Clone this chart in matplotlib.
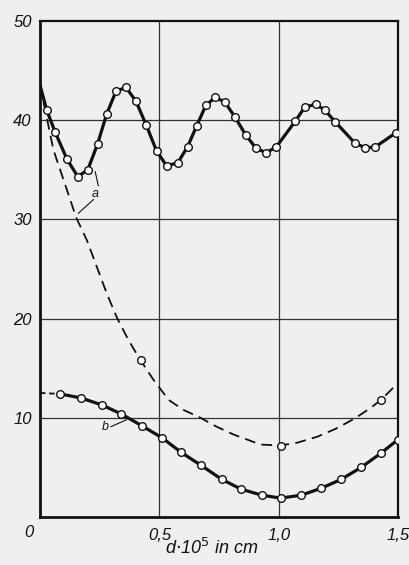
import matplotlib
matplotlib.use("Agg")
import matplotlib.pyplot as plt

# Kurve a, gemessen (obere Kurve)
xa = [0.0, 0.028, 0.063, 0.112, 0.158, 0.200, 0.241, 0.279, 0.318, 0.360, 0.402,
      0.445, 0.488, 0.530, 0.577, 0.618, 0.656, 0.695, 0.735, 0.775, 0.817, 0.862,
      0.904, 0.947, 0.990, 1.070, 1.109, 1.155, 1.194, 1.238, 1.319, 1.363, 1.405, 1.490]
ya = [43.5, 41.0, 38.8, 36.1, 34.3, 35.0, 37.6, 40.6, 42.9, 43.3, 41.9,
      39.5, 36.9, 35.4, 35.7, 37.3, 39.4, 41.5, 42.3, 41.8, 40.3, 38.5,
      37.2, 36.7, 37.3, 39.9, 41.3, 41.6, 41.0, 39.8, 37.7, 37.2, 37.3, 38.7]

# Kurve a, berechnet (gestrichelt)
xa_th = [0.0, 0.056, 0.126, 0.151, 0.196, 0.238, 0.280, 0.322, 0.371, 0.421, 0.476,
         0.539, 0.600, 0.672, 0.740, 0.812, 0.924, 1.008, 1.080, 1.163, 1.240, 1.317,
         1.380, 1.429, 1.500]
ya_th = [43.5, 37.0, 32.0, 30.2, 27.9, 25.2, 22.5, 20.1, 17.8, 15.8, 13.8,
         11.8, 10.8, 10.0, 9.1, 8.3, 7.3, 7.2, 7.5, 8.1, 8.9, 9.9,
         10.9, 11.8, 13.5]
xa_th_pts = [0.421, 1.008, 1.429]
ya_th_pts = [15.8, 7.2, 11.8]

# Kurve b
xb = [0.084, 0.171, 0.258, 0.339, 0.426, 0.510, 0.592, 0.675, 0.761, 0.843,
      0.929, 1.008, 1.095, 1.179, 1.263, 1.346, 1.427, 1.500]
yb = [12.4, 12.0, 11.3, 10.4, 9.2, 8.0, 6.5, 5.2, 3.8, 2.8,
      2.2, 1.9, 2.2, 2.9, 3.8, 5.0, 6.4, 7.8]
xb_start = [0.0, 0.084]
yb_start = [12.5, 12.4]

xticks = [0.5, 1.0, 1.5]
xticklabels = ['0,5', '1,0', '1,5']
yticks = [10, 20, 30, 40, 50]
yticklabels = ['10', '20', '30', '40', '50']

papier = '#efefef'
fam = ['Liberation Sans', 'DejaVu Sans']

fig = plt.figure(figsize=(4.09, 5.65), dpi=100, facecolor=papier)
ax = fig.add_axes([0.098, 0.085, 0.875, 0.878], facecolor=papier)

ax.set_xlim(0, 1.5)
ax.set_ylim(0, 50)

# Gitter
for xv in xticks[:-1]:
    ax.axvline(xv, color='#333333', lw=0.9, zorder=1)
for yv in yticks[:-1]:
    ax.axhline(yv, color='#333333', lw=0.9, zorder=1)

mk = dict(marker='o', markersize=5.5, markerfacecolor='white',
          markeredgecolor='#111111', markeredgewidth=1.0)

ax.plot(xa_th, ya_th, color='#111111', lw=1.3, ls=(0, (6, 3.5)), zorder=2)
ax.plot(xa_th_pts, ya_th_pts, ls='none', zorder=4, **mk)

ax.plot(xa, ya, color='#111111', lw=2.3, zorder=3)
ax.plot(xa[1:], ya[1:], ls='none', zorder=4, **mk)

ax.plot(xb_start, yb_start, color='#111111', lw=1.3, ls=(0, (3, 2)), zorder=2)
ax.plot(xb, yb, color='#111111', lw=2.3, zorder=3)
ax.plot(xb, yb, ls='none', zorder=4, **mk)

# Beschriftung a und b
ax.text(0.231, 32.6, 'a', fontsize=9, style='italic', family=fam,
        ha='center', va='center', color='#111111')
ax.plot([0.224, 0.160], [32.0, 30.6], color='#111111', lw=0.8)
ax.plot([0.231, 0.244], [34.8, 33.4], color='#111111', lw=0.8)
ax.text(0.272, 9.1, 'b', fontsize=9, style='italic', family=fam,
        ha='center', va='center', color='#111111')
ax.plot([0.297, 0.362], [9.1, 9.8], color='#111111', lw=0.8)

# Achsen
for side in ['left', 'bottom']:
    ax.spines[side].set_linewidth(2.0)
for side in ['top', 'right']:
    ax.spines[side].set_linewidth(1.6)
for s in ax.spines.values():
    s.set_color('#111111')

ax.set_xticks(xticks)
ax.set_xticklabels(xticklabels)
ax.set_yticks(yticks)
ax.set_yticklabels(yticklabels)
ax.tick_params(axis='x', length=0, pad=8, labelsize=12, colors='#111111')
ax.tick_params(axis='y', length=0, pad=6, labelsize=12, colors='#111111')
for lab in ax.get_xticklabels() + ax.get_yticklabels():
    lab.set_style('italic')
    lab.set_family(fam)

ax.text(-0.045, -1.6, '0', fontsize=12, style='italic', family=fam,
        ha='center', va='center', color='#111111')

ax.set_xlabel('d$\\cdot$10$^5$ in cm', fontsize=13, style='italic',
              family=fam, color='#111111')
ax.xaxis.label.set_va('center')
ax.xaxis.set_label_coords(0.48, -0.062)

fig.savefig('out.png', dpi=100, facecolor=papier)
